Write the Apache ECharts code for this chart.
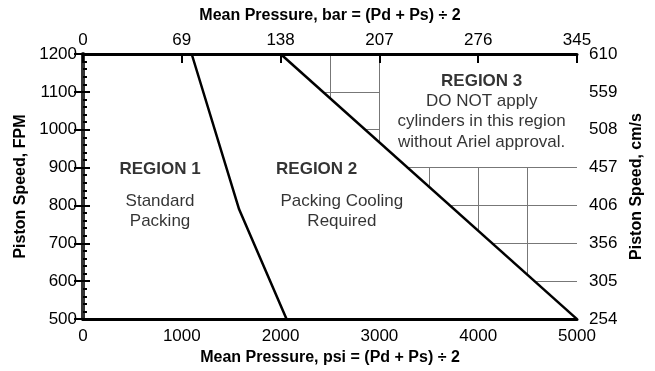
<!DOCTYPE html>
<html>
<head>
<meta charset="utf-8">
<script src="https://cdn.jsdelivr.net/npm/echarts@6/dist/echarts.min.js"></script>
<style>
html,body{margin:0;padding:0;background:#fff;}
#chart{width:655px;height:371px;}
</style>
</head>
<body>
<div id="chart"></div>
<script>
// ---- data ----
const psiRange = [0, 5000];
const fpmRange = [500, 1200];
const topTickLabels = ['0', '69', '138', '207', '276', '345'];
const rightTickLabels = ['254', '305', '356', '406', '457', '508', '559', '610'];
const region1Boundary = [[1100, 1200], [1580, 790], [2060, 500]];
const region2Boundary = [[2000, 1200], [5000, 500]];
const gridX = [2500, 3000, 3500, 4000, 4500];
const gridY = [600, 700, 800, 900, 1000, 1100];
const noteBoxCorner = [3000, 900]; // region 3 note box (left / bottom) in data units
const textLines = ['REGION 1', 'Standard', 'Packing', 'REGION 2', 'Packing Cooling', 'Required',
  'REGION 3', 'DO NOT apply', 'cylinders in this region', 'without Ariel approval.'];
const textX = [780, 780, 780, 2365, 2620, 2620, 4035, 4035, 4035, 4035];
const textY = [896, 812, 757, 896, 812, 757, 1129, 1075, 1022, 967];
const textBold = [true, false, false, true, false, false, true, false, false, false];

// ---- derived ----
const [p0, p1] = region2Boundary;
const diagY = x => p0[1] + (x - p0[0]) * (p1[1] - p0[1]) / (p1[0] - p0[0]);
const diagX = y => p0[0] + (y - p0[1]) * (p1[0] - p0[0]) / (p1[1] - p0[1]);
const gridSegs = [];
gridX.forEach(x => {
  const lo = diagY(x);
  const hi = x > noteBoxCorner[0] ? noteBoxCorner[1] : fpmRange[1];
  if (hi > lo) gridSegs.push({coords: [[x, lo], [x, hi]]});
});
gridY.forEach(y => {
  const lo = diagX(y);
  const hi = y > noteBoxCorner[1] ? noteBoxCorner[0] : psiRange[1];
  if (hi > lo) gridSegs.push({coords: [[lo, y], [hi, y]]});
});
const textData = textLines.map((t, i) => ({
  value: [textX[i], textY[i]], name: t,
  label: {fontWeight: textBold[i] ? 'bold' : 'normal'}
}));

const FONT = "'Liberation Sans', Arial, sans-serif";
const TXT = '#000';
const chart = echarts.init(document.getElementById('chart'), null, {renderer: 'canvas'});
chart.setOption({
  animation: false,
  backgroundColor: '#fff',
  textStyle: {fontFamily: FONT},
  grid: {left: 83, right: 78, top: 54, bottom: 50, containLabel: false},
  xAxis: [{
    type: 'value', position: 'bottom', min: psiRange[0], max: psiRange[1], interval: 1000, z: 5,
    name: 'Mean Pressure, psi = (Pd + Ps) ÷ 2', nameLocation: 'middle', nameGap: 28,
    nameTextStyle: {fontFamily: FONT, fontWeight: 'bold', fontSize: 16, color: TXT},
    axisLine: {show: true, lineStyle: {color: '#000', width: 3}},
    axisTick: {show: false},
    axisLabel: {fontFamily: FONT, fontSize: 17, color: TXT, margin: 9,
      formatter: (v) => String(v)},
    splitLine: {show: false}
  }, {
    type: 'value', position: 'top', min: 0, max: 345, interval: 69, z: 5,
    name: 'Mean Pressure, bar = (Pd + Ps) ÷ 2', nameLocation: 'middle', nameGap: 30,
    nameTextStyle: {fontFamily: FONT, fontWeight: 'bold', fontSize: 16, color: TXT},
    axisLine: {show: true, lineStyle: {color: '#000', width: 3}},
    axisTick: {show: true, inside: true, length: 9, lineStyle: {color: '#000', width: 2}},
    axisLabel: {fontFamily: FONT, fontSize: 17, color: TXT, margin: 5,
      formatter: (v) => topTickLabels[Math.round(v / 69)]},
    splitLine: {show: false}
  }],
  yAxis: [{
    type: 'value', position: 'left', min: fpmRange[0], max: fpmRange[1], interval: 100, z: 5,
    name: 'Piston Speed, FPM', nameLocation: 'middle', nameGap: 50, nameRotate: 90,
    nameTextStyle: {fontFamily: FONT, fontWeight: 'bold', fontSize: 16, color: TXT},
    axisLine: {show: true, lineStyle: {color: '#000', width: 3}},
    axisTick: {show: true, inside: true, length: 7, lineStyle: {color: '#000', width: 2}},
    minorTick: {show: true, splitNumber: 5, length: 4, lineStyle: {color: '#000', width: 2}},
    axisLabel: {fontFamily: FONT, fontSize: 17, color: TXT, margin: 6,
      formatter: (v) => String(v)},
    splitLine: {show: false}
  }, {
    type: 'value', position: 'right', min: fpmRange[0], max: fpmRange[1], interval: 100, z: 5,
    name: 'Piston Speed, cm/s', nameLocation: 'middle', nameGap: 52, nameRotate: 90,
    nameTextStyle: {fontFamily: FONT, fontWeight: 'bold', fontSize: 16, color: TXT},
    axisLine: {show: true, lineStyle: {color: '#333', width: 4}},
    axisTick: {show: true, inside: true, length: 9, lineStyle: {color: '#000', width: 2}},
    axisLabel: {fontFamily: FONT, fontSize: 17, color: TXT, margin: 12,
      formatter: (v) => rightTickLabels[Math.round((v - fpmRange[0]) / 100)]},
    splitLine: {show: false}
  }],
  series: [{
    type: 'lines', coordinateSystem: 'cartesian2d', xAxisIndex: 0, yAxisIndex: 0,
    silent: true, z: 1,
    lineStyle: {color: '#777', width: 1, opacity: 1},
    data: gridSegs
  }, {
    type: 'line', xAxisIndex: 0, yAxisIndex: 0, data: region1Boundary, symbol: 'none', z: 3,
    lineStyle: {color: '#000', width: 2.5}
  }, {
    type: 'line', xAxisIndex: 0, yAxisIndex: 0, data: region2Boundary, symbol: 'none', z: 3,
    lineStyle: {color: '#000', width: 2.5}
  }, {
    type: 'scatter', xAxisIndex: 0, yAxisIndex: 0, data: textData, symbolSize: 1, z: 4,
    itemStyle: {color: 'rgba(0,0,0,0)'},
    label: {show: true, position: 'inside', formatter: p => p.name,
      fontFamily: FONT, fontSize: 17, color: '#000', textBorderWidth: 0}
  }]
});
</script>
</body>
</html>
